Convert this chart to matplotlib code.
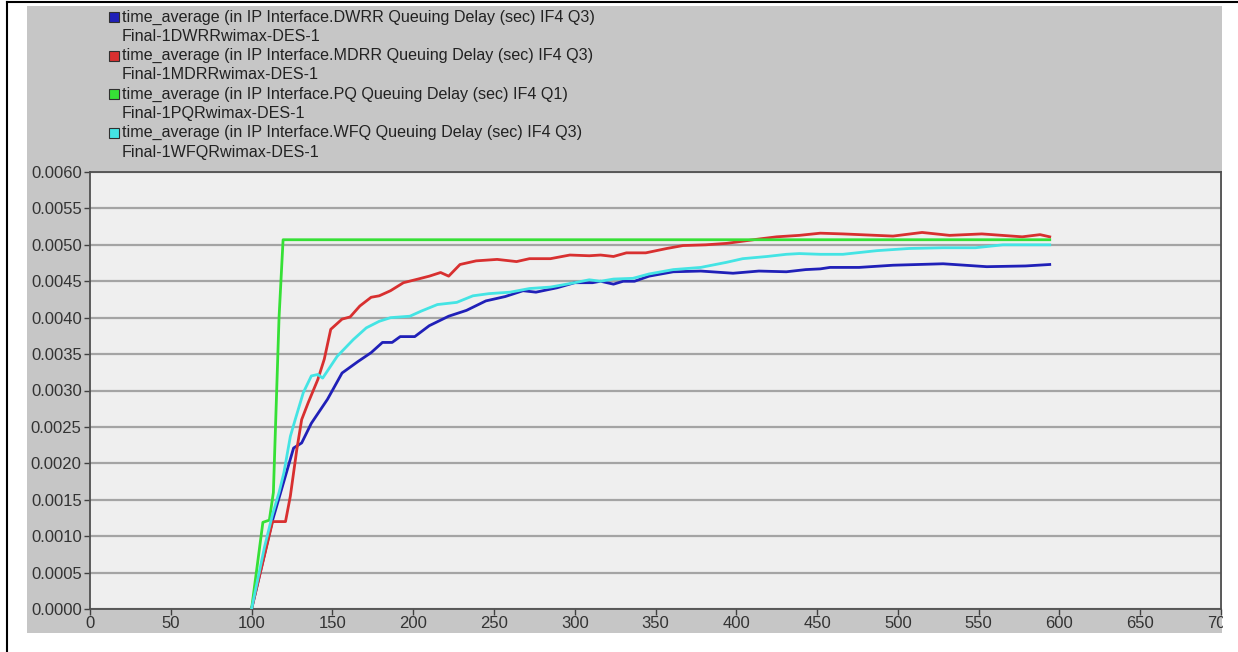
import matplotlib.pyplot as plt
from matplotlib.patches import Rectangle
from matplotlib.lines import Line2D

# time axis (sec) and queuing delay (sec) per scheduler
dwrr_t = [100, 113, 126, 131, 137, 147, 156, 166, 174, 181, 187, 192, 201, 210, 222, 233, 245, 257,
          268, 276, 289, 300, 311, 316, 324, 330, 337, 346, 361, 378, 398, 414, 431, 443, 452, 458,
          476, 497, 528, 555, 579, 594]
dwrr_d = [0.0, 0.00122, 0.00221, 0.00228, 0.00255, 0.00288, 0.00324, 0.00340, 0.00352, 0.00366,
          0.00366, 0.00374, 0.00374, 0.00389, 0.00402, 0.00410, 0.00423, 0.00429, 0.00437, 0.00435,
          0.00441, 0.00448, 0.00448, 0.00450, 0.00446, 0.00450, 0.00450, 0.00457, 0.00463, 0.00464,
          0.00461, 0.00464, 0.00463, 0.00466, 0.00467, 0.00469, 0.00469, 0.00472, 0.00474, 0.00470,
          0.00471, 0.00473]

mdrr_t = [100, 113, 121, 124, 128, 131, 135, 141, 145, 149, 156, 161, 167, 174, 179, 186, 194, 203,
          210, 217, 222, 229, 239, 252, 264, 272, 285, 297, 309, 316, 324, 332, 344, 357, 367, 381,
          394, 404, 414, 425, 439, 452, 466, 497, 515, 532, 552, 577, 588, 594]
mdrr_d = [0.0, 0.00120, 0.00120, 0.00155, 0.00219, 0.00260, 0.00283, 0.00315, 0.00343, 0.00384,
          0.00398, 0.00401, 0.00416, 0.00428, 0.00430, 0.00437, 0.00448, 0.00453, 0.00457, 0.00462,
          0.00457, 0.00473, 0.00478, 0.00480, 0.00477, 0.00481, 0.00481, 0.00486, 0.00485, 0.00486,
          0.00484, 0.00489, 0.00489, 0.00495, 0.00499, 0.00500, 0.00502, 0.00505, 0.00508, 0.00511,
          0.00513, 0.00516, 0.00515, 0.00512, 0.00517, 0.00513, 0.00515, 0.00511, 0.00514, 0.00511]

pq_t = [100, 107, 111, 113.5, 117, 119.5, 594]
pq_d = [0.0, 0.00119, 0.00122, 0.00160, 0.00400, 0.00507, 0.00507]

wfq_t = [100, 108, 113, 117, 120, 124, 127, 132, 137, 141, 144, 153, 163, 171, 179, 186, 198, 205,
         215, 227, 237, 247, 260, 272, 285, 300, 309, 316, 324, 336, 346, 361, 378, 394, 404, 419,
         431, 439, 452, 466, 487, 507, 528, 548, 565, 594]
wfq_d = [0.0, 0.00085, 0.00130, 0.00160, 0.00187, 0.00237, 0.00260, 0.00297, 0.00320, 0.00322,
         0.00317, 0.00347, 0.00370, 0.00386, 0.00395, 0.00400, 0.00402, 0.00409, 0.00418, 0.00421,
         0.00430, 0.00433, 0.00435, 0.00440, 0.00442, 0.00448, 0.00452, 0.00450, 0.00453, 0.00454,
         0.00460, 0.00466, 0.00469, 0.00476, 0.00481, 0.00484, 0.00487, 0.00488, 0.00487, 0.00487,
         0.00492, 0.00495, 0.00496, 0.00496, 0.00500, 0.00500]

legend_titles = [
    'time_average (in IP Interface.DWRR Queuing Delay (sec) IF4 Q3)',
    'time_average (in IP Interface.MDRR Queuing Delay (sec) IF4 Q3)',
    'time_average (in IP Interface.PQ Queuing Delay (sec) IF4 Q1)',
    'time_average (in IP Interface.WFQ Queuing Delay (sec) IF4 Q3)',
]
legend_runs = ['Final-1DWRRwimax-DES-1', 'Final-1MDRRwimax-DES-1',
               'Final-1PQRwimax-DES-1', 'Final-1WFQRwimax-DES-1']
colors = ['#2020b8', '#d83030', '#36e036', '#44e4e4']

W, H = 1238, 652
plt.rcParams['font.family'] = ['Liberation Sans', 'DejaVu Sans']


def fx(px):
    return px / W


def fy(py):
    return 1 - py / H


fig = plt.figure(figsize=(W / 100, H / 100), dpi=100)
fig.patch.set_facecolor('white')

# grey panel behind everything, plus the thin black frame
fig.patches.append(Rectangle((fx(27), fy(633)), fx(1222) - fx(27), fy(6) - fy(633),
                             transform=fig.transFigure, facecolor='#c6c6c6', edgecolor='none', zorder=-10))
fig.add_artist(Line2D([fx(7), fx(7)], [fy(2), 0], color='black', lw=1.5))
fig.add_artist(Line2D([fx(7), 1], [fy(2), fy(2)], color='black', lw=1.5))

ax = fig.add_axes([fx(90), fy(609), fx(1221) - fx(90), fy(172) - fy(609)])
ax.set_facecolor('#efefef')

series = [(dwrr_t, dwrr_d), (mdrr_t, mdrr_d), (pq_t, pq_d), (wfq_t, wfq_d)]
order = [2, 3, 1, 0]  # draw green first, blue on top
for i in order:
    t, d = series[i]
    ax.plot(t, d, color=colors[i], lw=2.0, solid_joinstyle='round', zorder=3 + i)

ax.set_xlim(0, 700)
ax.set_ylim(0, 0.006)
ax.set_xticks(range(0, 701, 50))
ax.set_yticks([i * 0.0005 for i in range(13)])
ax.yaxis.set_major_formatter(plt.FormatStrFormatter('%.4f'))
ax.yaxis.grid(True, color='#a4a4a4', lw=1.6)
ax.xaxis.grid(False)
ax.set_axisbelow(True)
for side in ['left', 'bottom', 'top', 'right']:
    ax.spines[side].set_color('#505050')
    ax.spines[side].set_linewidth(1.3)
ax.tick_params(axis='both', direction='out', length=4, width=1, color='#404040',
               labelsize=12, labelcolor='#333333')
ax.tick_params(axis='x', pad=1)
ax.tick_params(axis='y', pad=2)

# white strip right of the panel cuts off the last tick label
fig.patches.append(Rectangle((fx(1222.5), 0), 1 - fx(1222.5), fy(612),
                             transform=fig.transFigure, facecolor='white', edgecolor='none', zorder=10))

# legend block drawn in figure pixels
row_gap = 19.3
for i in range(4):
    y1 = 17 + i * 2 * row_gap
    y2 = y1 + row_gap
    fig.patches.append(Rectangle((fx(109), fy(y1 + 5)), fx(10), 10 / H, transform=fig.transFigure,
                                 facecolor=colors[i], edgecolor='#303030', lw=0.8, zorder=5))
    fig.text(fx(122), fy(y1), legend_titles[i], fontsize=11.6, color='#222222', va='center', ha='left')
    fig.text(fx(122), fy(y2), legend_runs[i], fontsize=11.6, color='#222222', va='center', ha='left')

fig.savefig('out.png', dpi=100)
